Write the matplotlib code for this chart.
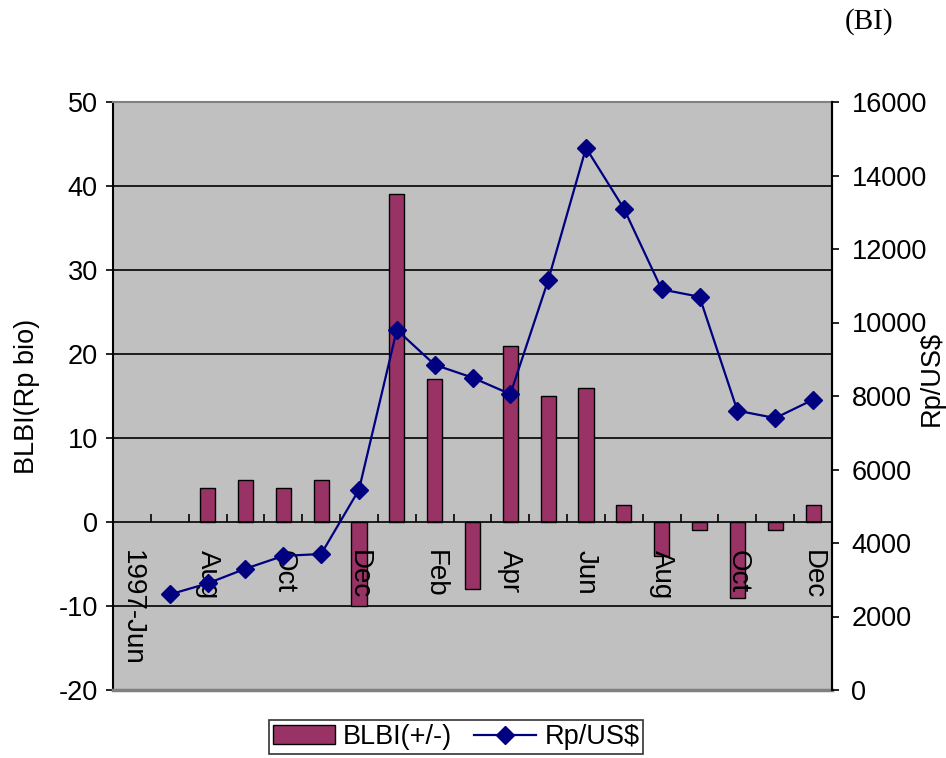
import numpy as np
import matplotlib
matplotlib.use('Agg')
import matplotlib.pyplot as plt
from matplotlib.ticker import FixedLocator

plt.rcParams['font.family'] = ['Liberation Sans', 'DejaVu Sans']
plt.rcParams['axes.unicode_minus'] = False

# months Jun 1997 .. Dec 1998
months = ['1997-Jun', 'Jul', 'Aug', 'Sep', 'Oct', 'Nov', 'Dec',
          'Jan', 'Feb', 'Mar', 'Apr', 'May', 'Jun', 'Jul', 'Aug',
          'Sep', 'Oct', 'Nov', 'Dec']
blbi = [np.nan, np.nan, 4, 5, 4, 5, -10, 39, 17, -8, 21, 15, 16, 2, -4, -1, -9, -1, 2]
rp_usd = [np.nan, 2600, 2900, 3300, 3650, 3700, 5450, 9800, 8850, 8500,
          8050, 11150, 14750, 13100, 10900, 10700, 7600, 7400, 7900]
left_ticks = [-20, -10, 0, 10, 20, 30, 40, 50]
right_ticks = [0, 2000, 4000, 6000, 8000, 10000, 12000, 14000, 16000]

fs = 19.5
fig = plt.figure(figsize=(9.46, 7.58), dpi=100)
ax = fig.add_axes([113 / 946, 1 - 690 / 758, 719 / 946, 588 / 758])
ax.set_facecolor('#C0C0C0')

x = np.arange(len(months))
bars = ax.bar(x, blbi, width=0.4, color='#993366', edgecolor='black',
              linewidth=1.0, label='BLBI(+/-)', zorder=3)

ax.set_xlim(-0.5, len(months) - 0.5)
ax.set_ylim(-20, 50)
ax.set_yticks(left_ticks)
ax.tick_params(axis='y', labelsize=fs, direction='out', length=5, width=1.2, pad=6)
for t in left_ticks[1:-1]:
    if t != 0:
        ax.axhline(t, color='black', linewidth=1.2, zorder=1)

# category axis crossing at zero
ax.spines['bottom'].set_position(('data', 0))
ax.spines['bottom'].set_linewidth(1.2)
ax.spines['bottom'].set_zorder(4)
ax.spines['top'].set_color('#808080')
ax.spines['top'].set_linewidth(1.5)
ax.spines['left'].set_linewidth(1.5)
ax.spines['right'].set_linewidth(1.5)
ax.axhline(-20, color='#808080', linewidth=2.5, zorder=5, clip_on=False)

ax.set_xticks(x[::2])
ax.set_xticklabels(months[::2])
ax.xaxis.set_minor_locator(FixedLocator(np.arange(0.5, len(months) - 0.5, 1)))
ax.tick_params(axis='x', which='major', length=0, labelbottom=False)
ax.tick_params(axis='x', which='minor', direction='in', length=6, width=1.2)

ax.set_ylabel('BLBI(Rp bio)', fontsize=fs)
ax.yaxis.set_label_coords(-0.101, 0.5)

ax2 = ax.twinx()
line, = ax2.plot(x, rp_usd, color='#000080', linewidth=1.6, marker='D',
                 markersize=9, label='Rp/US$', zorder=4)
ax2.set_ylim(0, 16000)
ax2.set_yticks(right_ticks)
ax2.tick_params(axis='y', labelsize=fs, direction='out', length=5, width=1.2, pad=9)
ax2.set_ylabel('Rp/US$', fontsize=fs)
ax2.yaxis.set_label_coords(1.12, 0.53)
for s in ['top', 'left']:
    ax2.spines[s].set_visible(False)
ax2.spines['right'].set_linewidth(1.5)

# month labels drawn on the twin so they sit above bars and line
ax2.xaxis.set_visible(True)
ax2.spines['bottom'].set_position(('axes', 20 / 70))
ax2.spines['bottom'].set_color('none')
ax2.tick_params(axis='x', which='both', length=0, bottom=True, labelbottom=True,
                pad=20)
ax2.set_xticks(x[::2])
ax2.set_xticklabels(months[::2], rotation=270, fontsize=20, va='top', ha='center')
ax2.set_xlim(-0.5, len(months) - 0.5)

leg = fig.legend([bars, line], ['BLBI(+/-)', 'Rp/US$'], loc='center',
                 bbox_to_anchor=(456 / 946, 1 - 737 / 758), ncol=2,
                 fontsize=fs, frameon=True, fancybox=False, edgecolor='black',
                 handlelength=2.3, handletextpad=0.3, columnspacing=0.8,
                 borderpad=0.15, borderaxespad=0)
leg.get_frame().set_linewidth(1.2)

fig.text(869 / 946, 1 - 22 / 758, '(BI)', fontsize=21, ha='center', va='center',
         family=['Liberation Serif', 'DejaVu Serif'])

fig.savefig('out.png', dpi=100)
